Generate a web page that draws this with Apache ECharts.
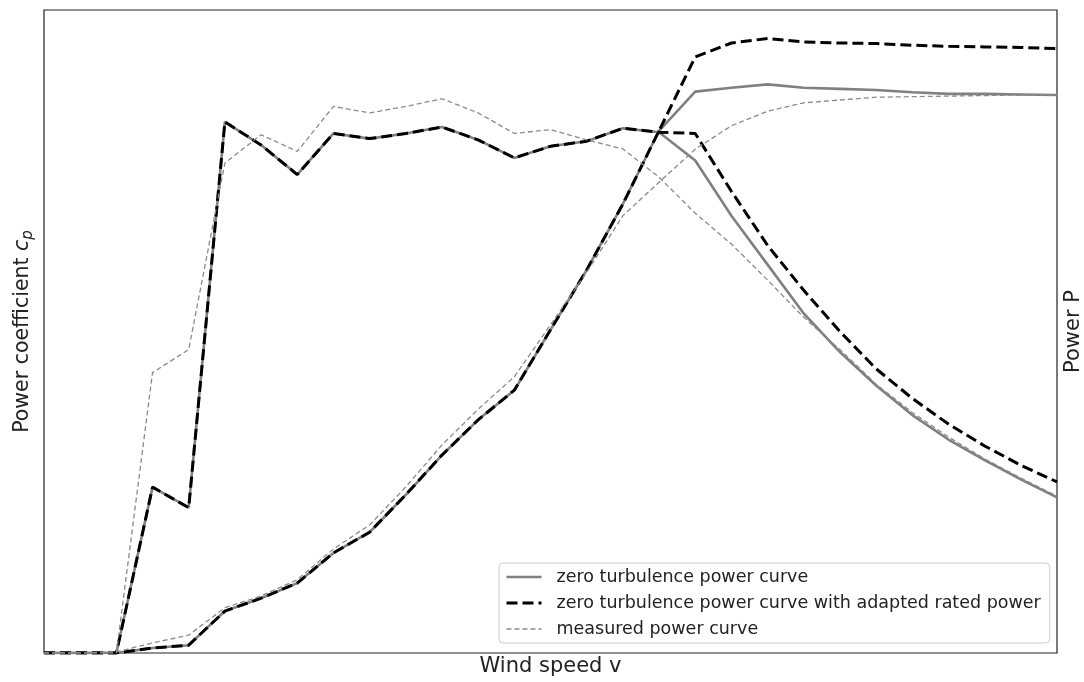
<!DOCTYPE html>
<html>
<head>
<meta charset="utf-8">
<script src="https://cdn.jsdelivr.net/npm/echarts@6/dist/echarts.min.js"></script>
<style>
html,body{margin:0;padding:0;background:#fff;}
#chart{width:1084px;height:682px;}
</style>
</head>
<body>
<div id="chart"></div>
<script>
// Wind speed steps (no tick labels in the original)
var windSpeed = [0,1,2,3,4,5,6,7,8,9,10,11,12,13,14,15,16,17,18,19,20,21,22,23,24,25,26,27,28];

// Power coefficient cp (left axis)
var cpZeroTurb = [0,0,0,0.129,0.113,0.413,0.395,0.372,0.404,0.400,0.404,0.409,0.399,0.385,0.394,0.398,0.408,0.405,
                  0.383,0.340,0.302,0.264,0.234,0.208,0.185,0.166,0.150,0.135,0.121];
var cpAdapted  = [0,0,0,0.129,0.113,0.413,0.395,0.372,0.404,0.400,0.404,0.409,0.399,0.385,0.394,0.398,0.408,0.405,
                  0.404,0.359,0.317,0.282,0.250,0.221,0.198,0.178,0.161,0.146,0.133];
var cpMeasured = [0,0,0,0.218,0.236,0.381,0.403,0.390,0.425,0.420,0.425,0.431,0.420,0.404,0.407,0.399,0.392,0.370,
                  0.342,0.318,0.290,0.261,0.236,0.209,0.187,0.168,0.151,0.136,0.122];

// Power P (right axis, normalised)
var pZeroTurb  = [0,0,0,0.009,0.014,0.075,0.098,0.125,0.179,0.216,0.283,0.354,0.417,0.470,0.578,0.685,0.803,0.934,
                  1.004,1.011,1.017,1.011,1.009,1.007,1.003,1.000,1.000,0.999,0.998];
var pAdapted   = [0,0,0,0.009,0.014,0.075,0.098,0.125,0.179,0.216,0.283,0.354,0.417,0.470,0.578,0.685,0.803,0.934,
                  1.066,1.091,1.099,1.093,1.091,1.090,1.087,1.085,1.084,1.083,1.081];
var pMeasured  = [0,0,0.002,0.018,0.032,0.081,0.102,0.131,0.186,0.229,0.297,0.372,0.436,0.494,0.587,0.681,0.782,0.842,
                  0.901,0.943,0.969,0.984,0.989,0.994,0.995,0.996,0.997,0.998,0.998];

var names = ['zero turbulence power curve',
             'zero turbulence power curve with adapted rated power',
             'measured power curve'];

function pairs(xs, ys){ return xs.map(function(x,i){ return [x, ys[i]]; }); }

var FONT = 'DejaVu Sans';
var styleZero = {color:'#808080', width:2.6, type:'solid'};
var styleAdapt = {color:'#000000', width:3, type:[11,5]};
var styleMeas = {color:'#8a8a8a', width:1.3, type:[5,3]};
var legendStyles = [styleZero, styleAdapt, styleMeas];

function mk(name, data, yIdx, ls){
  return {
    name: name, type:'line', yAxisIndex:yIdx, data:pairs(windSpeed, data),
    symbol:'none', showSymbol:false, animation:false,
    lineStyle: ls, itemStyle:{color:ls.color},
    emphasis:{disabled:true}
  };
}

var chart = echarts.init(document.getElementById('chart'), null, {renderer:'canvas'});
chart.setOption({
  animation:false,
  backgroundColor:'#ffffff',
  textStyle:{fontFamily:FONT},
  grid:{left:44, right:27, top:10, bottom:29, show:true, borderColor:'#222', borderWidth:1.2,
        backgroundColor:'transparent', outerBoundsMode:'none', containLabel:false},
  xAxis:{
    type:'value', min:0, max:28,
    name:'Wind speed v', nameLocation:'middle', nameGap:3,
    nameTextStyle:{fontFamily:FONT, fontSize:21, color:'#222', verticalAlign:'top'},
    axisLine:{show:false}, axisTick:{show:false}, axisLabel:{show:false}, splitLine:{show:false}
  },
  yAxis:[{
    type:'value', min:0, max:0.5, position:'left',
    name:'{a|Power coefficient }{b|c}{c|p}', nameLocation:'middle', nameGap:8, nameRotate:90,
    nameTextStyle:{fontFamily:FONT, fontSize:20.5, color:'#222',
      rich:{
        a:{fontFamily:FONT, fontSize:20.5, color:'#222', lineHeight:26},
        b:{fontFamily:FONT, fontSize:20.5, color:'#222', fontStyle:'italic', lineHeight:26},
        c:{fontFamily:FONT, fontSize:15, color:'#222', fontStyle:'italic', lineHeight:15, verticalAlign:'bottom'}
      }},
    axisLine:{show:false}, axisTick:{show:false}, axisLabel:{show:false}, splitLine:{show:false}
  },{
    type:'value', min:0, max:1.15, position:'right',
    name:'Power P', nameLocation:'middle', nameGap:6, nameRotate:90,
    nameTextStyle:{fontFamily:FONT, fontSize:21, color:'#222'},
    axisLine:{show:false}, axisTick:{show:false}, axisLabel:{show:false}, splitLine:{show:false}
  }],
  legend:{
    data:names.map(function(n,i){ return {name:n, lineStyle:legendStyles[i]}; }),
    orient:'vertical', left:499, top:563,
    backgroundColor:'rgba(255,255,255,0.9)', borderColor:'#cccccc', borderWidth:1, borderRadius:4,
    padding:[5,9,5,6], itemGap:8, itemWidth:35, itemHeight:14,
    selectedMode:false,
    itemStyle:{opacity:0, color:'rgba(0,0,0,0)', borderWidth:0},
    textStyle:{fontFamily:FONT, fontSize:17.5, color:'#222', padding:[0,0,0,10]}
  },
  series:[
    mk(names[0], cpZeroTurb, 0, styleZero),
    mk(names[0], pZeroTurb, 1, styleZero),
    mk(names[1], cpAdapted, 0, styleAdapt),
    mk(names[1], pAdapted, 1, styleAdapt),
    mk(names[2], cpMeasured, 0, styleMeas),
    mk(names[2], pMeasured, 1, styleMeas)
  ]
});
</script>
</body>
</html>
